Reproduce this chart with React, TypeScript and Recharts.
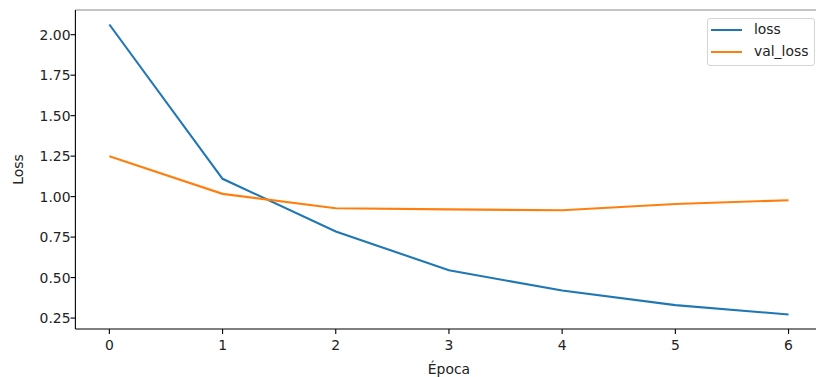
import React from 'react';
import { LineChart, Line, XAxis, YAxis, ReferenceLine } from 'recharts';

const epochs = [0, 1, 2, 3, 4, 5, 6];
const loss = [2.063, 1.11, 0.785, 0.545, 0.42, 0.33, 0.272];
const valLoss = [1.25, 1.017, 0.928, 0.921, 0.916, 0.954, 0.978];

const xTicks = [0, 1, 2, 3, 4, 5, 6];
const yTicks = [0.25, 0.5, 0.75, 1.0, 1.25, 1.5, 1.75, 2.0];

const BLUE = '#1f77b4';
const ORANGE = '#ff7f0e';
const FONT = '"DejaVu Sans", sans-serif';
const FONT_SIZE = 13.9;
const TEXT = '#222';

const data = epochs.map((e, i) => ({ epoch: e, loss: loss[i], val_loss: valLoss[i] }));

// 5% padding around the data, like the plotting defaults
const allY = [...loss, ...valLoss];
const yMin = Math.min(...allY);
const yMax = Math.max(...allY);
const yPad = (yMax - yMin) * 0.05;
const xPad = (epochs[epochs.length - 1] - epochs[0]) * 0.05;

const XTick = ({ x, y, payload }: any) => (
  <text x={x} y={y + 15.6} textAnchor="middle" fontFamily={FONT} fontSize={FONT_SIZE} fill={TEXT}>
    {payload.value}
  </text>
);

const YTick = ({ x, y, payload }: any) => (
  <text x={x} y={y + 5} textAnchor="end" fontFamily={FONT} fontSize={FONT_SIZE} fill={TEXT}>
    {Number(payload.value).toFixed(2)}
  </text>
);

const legendItems = [
  { name: 'loss', color: BLUE, top: 11 },
  { name: 'val_loss', color: ORANGE, top: 33 },
];

const LegendBox = () => (
  <div
    style={{
      position: 'absolute',
      left: 707,
      top: 18,
      width: 108,
      height: 48,
      boxSizing: 'border-box',
      border: '1px solid #d4d4d4',
      borderRadius: 3,
      background: 'rgba(255,255,255,0.8)',
      fontFamily: FONT,
      fontSize: FONT_SIZE,
      color: TEXT,
    }}
  >
    {legendItems.map((item) => (
      <div key={item.name}>
        <div
          style={{
            position: 'absolute',
            left: 3,
            top: item.top - 1,
            width: 31,
            height: 2.1,
            background: item.color,
          }}
        />
        <div style={{ position: 'absolute', left: 46, top: item.top - 10, lineHeight: '18px' }}>{item.name}</div>
      </div>
    ))}
  </div>
);

export default function App() {
  return (
    <div
      style={{
        position: 'absolute',
        left: 0,
        top: 0,
        width: 816,
        height: 377,
        overflow: 'hidden',
        background: '#fff',
      }}
    >
      <LineChart width={830} height={377} data={data} margin={{ top: 10, right: 7.5, bottom: 0, left: 0 }}>
        <XAxis
          dataKey="epoch"
          type="number"
          domain={[epochs[0] - xPad, epochs[epochs.length - 1] + xPad]}
          ticks={xTicks}
          allowDataOverflow
          height={48}
          tickSize={4.9}
          tickMargin={0}
          axisLine={{ stroke: '#000', strokeWidth: 1.1 }}
          tickLine={{ stroke: '#000', strokeWidth: 1.1 }}
          tick={<XTick />}
          label={{
            value: 'Época',
            position: 'insideBottom',
            offset: 3,
            fontFamily: FONT,
            fontSize: FONT_SIZE,
            fill: TEXT,
          }}
        />
        <YAxis
          type="number"
          domain={[yMin - yPad, yMax + yPad]}
          ticks={yTicks}
          allowDataOverflow
          width={75.4}
          tickSize={4.9}
          tickMargin={0}
          axisLine={{ stroke: '#000', strokeWidth: 1.1 }}
          tickLine={{ stroke: '#000', strokeWidth: 1.1 }}
          tick={<YTick />}
          label={{
            value: 'Loss',
            angle: -90,
            position: 'insideLeft',
            offset: 18,
            style: { textAnchor: 'middle' },
            fontFamily: FONT,
            fontSize: FONT_SIZE,
            fill: TEXT,
          }}
        />
        {/* top frame edge */}
        <ReferenceLine y={yMax + yPad} stroke="#8a8a8a" strokeWidth={1.1} />
        <Line
          type="linear"
          dataKey="loss"
          stroke={BLUE}
          strokeWidth={2.1}
          dot={false}
          activeDot={false}
          isAnimationActive={false}
        />
        <Line
          type="linear"
          dataKey="val_loss"
          stroke={ORANGE}
          strokeWidth={2.1}
          dot={false}
          activeDot={false}
          isAnimationActive={false}
        />
      </LineChart>
      <LegendBox />
    </div>
  );
}
